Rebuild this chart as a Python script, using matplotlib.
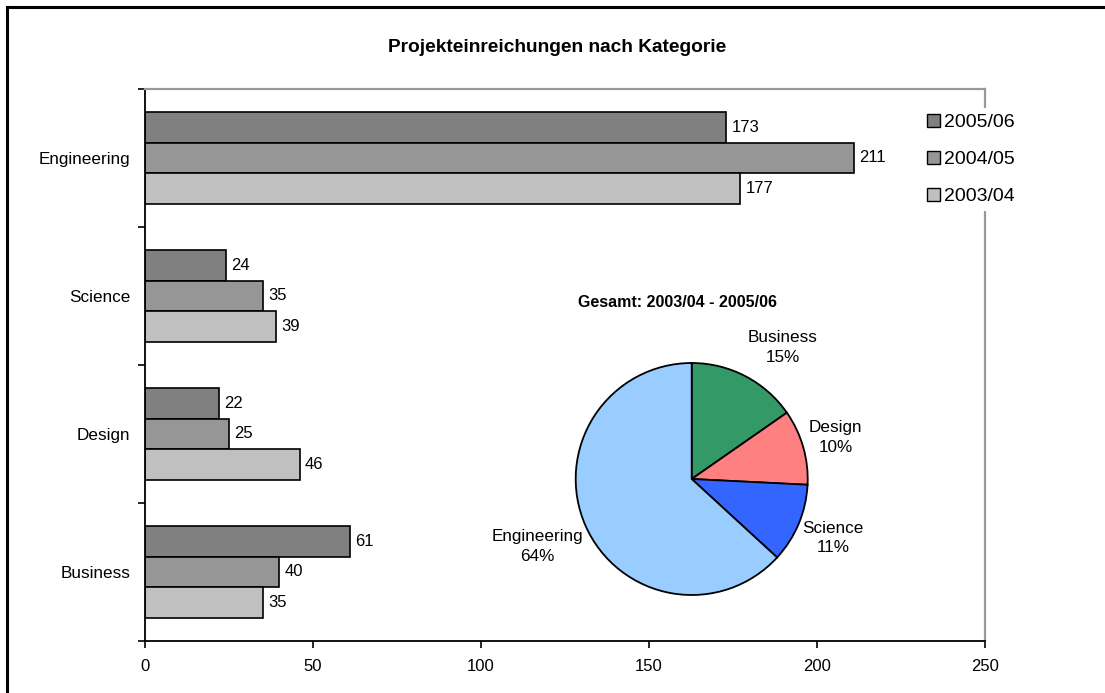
import matplotlib
matplotlib.use("Agg")
import matplotlib.pyplot as plt
import numpy as np
from matplotlib.patches import Patch
from matplotlib.lines import Line2D

plt.rcParams['font.family'] = ['Liberation Sans', 'DejaVu Sans']

categories = ["Business", "Design", "Science", "Engineering"]
years = ["2005/06", "2004/05", "2003/04"]
v_2005_06 = [61, 22, 24, 173]
v_2004_05 = [40, 25, 35, 211]
v_2003_04 = [35, 46, 39, 177]
series = [v_2005_06, v_2004_05, v_2003_04]
bar_colors = ["#808080", "#969696", "#C0C0C0"]
x_ticks = [0, 50, 100, 150, 200, 250]

pie_labels = ["Business", "Design", "Science", "Engineering"]
pie_values = [sum(s[i] for s in series) for i in range(4)]
pie_pct_text = ["15%", "10%", "11%", "64%"]
pie_colors = ["#339966", "#FF8080", "#3366FF", "#99CCFF"]

W, H = 1105, 693
fig = plt.figure(figsize=(W / 100, H / 100), dpi=100)

def fx(px):
    return px / W

def fy(py):
    return 1 - py / H

# outer frame (top and left visible)
fig.add_artist(Line2D([fx(7), 1.01], [fy(7), fy(7)], color="black", lw=2.2, transform=fig.transFigure))
fig.add_artist(Line2D([fx(7), fx(7)], [fy(7), -0.01], color="black", lw=2.2, transform=fig.transFigure))

ax = fig.add_axes([fx(145), fy(641), fx(985) - fx(145), fy(89) - fy(641)])
y = np.arange(len(categories))
h = 1 / 4.5
offsets = [h, 0, -h]
for vals, off, col, lab in zip(series, offsets, bar_colors, years):
    c = ax.barh(y + off, vals, height=h, color=col, edgecolor="black", linewidth=1.2, label=lab)
    ax.bar_label(c, labels=[str(v) for v in vals], padding=4, fontsize=12)

ax.set_xlim(0, 250)
ax.set_ylim(-0.5, 3.5)
ax.set_xticks(x_ticks)
ax.set_xticklabels([str(t) for t in x_ticks], fontsize=12)
ax.tick_params(axis="x", length=5, width=1.2, pad=8, direction="out")
ax.set_yticks(np.arange(-0.5, 4.0, 1.0))
ax.set_yticklabels([])
ax.tick_params(axis="y", which="major", length=5, width=1.2, direction="out")
ax.set_yticks(y, minor=True)
ax.set_yticklabels(categories, minor=True, fontsize=12.3)
ax.tick_params(axis="y", which="minor", length=0, pad=10.5)
for s in ["left", "bottom"]:
    ax.spines[s].set_color("black")
    ax.spines[s].set_linewidth(1.3)
for s in ["top", "right"]:
    ax.spines[s].set_color("#999999")
    ax.spines[s].set_linewidth(1.6)

fig.text(fx(557), fy(47), "Projekteinreichungen nach Kategorie", ha="center", va="center",
         fontsize=13.8, fontweight="bold")

handles = [Patch(facecolor=c, edgecolor="black", linewidth=1.0) for c in bar_colors]
leg = fig.legend(handles, years, loc="upper left", bbox_to_anchor=(fx(921), fy(108)),
                 bbox_transform=fig.transFigure, fontsize=14, frameon=True,
                 handlelength=0.68, handleheight=0.68, handletextpad=0.2,
                 labelspacing=1.0, borderpad=0.3, borderaxespad=0)
leg.get_frame().set_facecolor("white")
leg.get_frame().set_edgecolor("none")
leg.get_frame().set_alpha(1)

# pie
cx, cy, r = 691.7, 479, 116
pax = fig.add_axes([fx(cx - r), fy(cy + r), fx(2 * r), fy(cy - r) - fy(cy + r)])
wedges, _ = pax.pie(pie_values, colors=pie_colors, startangle=90, counterclock=False,
                    wedgeprops=dict(edgecolor="black", linewidth=1.3))
pax.set_xlim(-1, 1)
pax.set_ylim(-1, 1)
pax.set_aspect("auto")
pax.axis("off")

label_dist = [1.38, 1.29, 1.32, 1.45]
angle_shift = [-7, 0, 0, 0]
for w, name, pct, d, da in zip(wedges, pie_labels, pie_pct_text, label_dist, angle_shift):
    mid = np.deg2rad((w.theta1 + w.theta2) / 2 + da)
    pax.text(d * np.cos(mid), d * np.sin(mid), f"{name}\n{pct}", ha="center", va="center",
             fontsize=12.3, linespacing=1.4)

fig.text(fx(677), fy(302), "Gesamt: 2003/04 - 2005/06", ha="center", va="center",
         fontsize=11.5, fontweight="bold")

fig.savefig("out.png", dpi=100)
